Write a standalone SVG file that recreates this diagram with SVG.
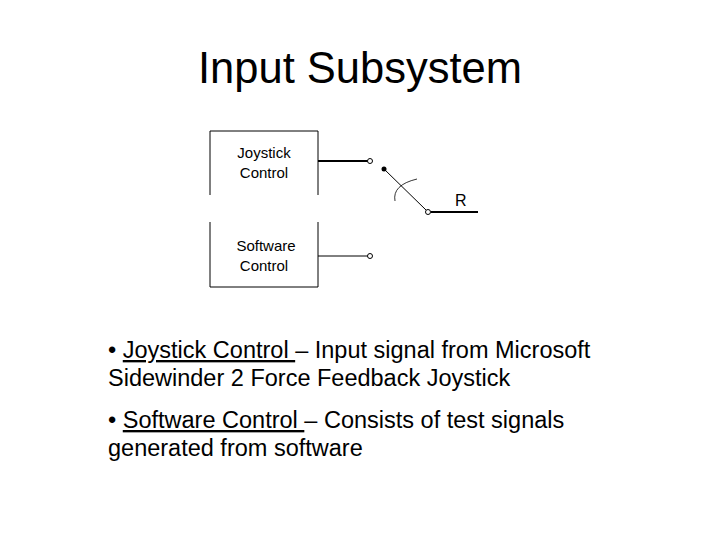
<svg xmlns="http://www.w3.org/2000/svg" width="720" height="540" viewBox="0 0 720 540">
<style>
.t{font-family:"Liberation Sans",Arial,sans-serif;fill:#000}
.s{font-size:15px;text-anchor:middle}
.b{font-size:23.5px}
.l{stroke:#000;fill:none}
</style>
<rect width="720" height="540" fill="#fff"/>
<text class="t" x="360" y="83" font-size="43.5" text-anchor="middle">Input Subsystem</text>
<g id="joystick">
<path class="l" d="M210 195V131H318V195"/>
<text class="t s" x="264" y="158">Joystick</text>
<text class="t s" x="264" y="178">Control</text>
</g>
<g id="software">
<path class="l" d="M210 222V287H318V222"/>
<text class="t s" x="266" y="251">Software</text>
<text class="t s" x="264" y="271">Control</text>
</g>
<g id="switch">
<text class="t" x="455" y="206" font-size="16">R</text>
</g>
<g id="connectors">
<path class="l" stroke-width="2" d="M318 161H368"/>
<circle cx="370" cy="161" r="2.5" fill="#fff" stroke="#000"/>
<path class="l" d="M318 256H368"/>
<circle cx="370" cy="256" r="2.5" fill="#fff" stroke="#000"/>
<circle cx="384" cy="169" r="2.5" fill="#000"/>
<path class="l" d="M384 169L426 210"/>
<circle cx="428" cy="212" r="2.5" fill="#fff" stroke="#000"/>
<path class="l" stroke-width="2" d="M431 212H478"/>
<path class="l" stroke-width="0.8" d="M395 201Q392 185 417 179"/>
</g>
<g class="t b">
<text x="108" y="358">• <tspan text-decoration="underline">Joystick Control </tspan>– Input signal from Microsoft</text>
<text x="108" y="386">Sidewinder 2 Force Feedback Joystick</text>
<text x="108" y="428">• <tspan text-decoration="underline">Software Control </tspan>– Consists of test signals</text>
<text x="108" y="456">generated from software</text>
</g>
</svg>
